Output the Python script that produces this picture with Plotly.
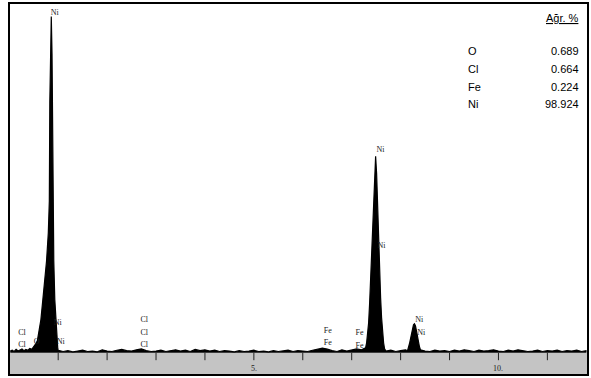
import plotly.graph_objects as go

# ---------------- data ----------------
# EDS spectrum: energy (keV) and counts (arbitrary units)
low_energy = [0.02, 0.06, 0.10, 0.14, 0.18, 0.22, 0.26, 0.30, 0.34, 0.38, 0.42, 0.46, 0.50,
              0.544, 0.574, 0.646, 0.686, 0.727, 0.762, 0.798, 0.819, 0.829, 0.845, 0.859,
              0.874, 0.880, 0.890, 0.910, 0.931, 0.951, 0.972, 0.992]
low_counts = [20, 30, 15, 40, 20, 35, 45, 25, 40, 30, 50, 40, 70,
              110, 144, 396, 636, 900, 1104, 1440, 1824, 3024, 3720, 4044,
              3600, 3024, 1824, 1104, 636, 396, 144, 48]

mid_energy = [1.0, 1.1, 1.2, 1.3, 1.4, 1.5, 1.6, 1.7, 1.8, 1.9, 2.0, 2.1, 2.2, 2.3, 2.4, 2.5,
              2.6, 2.7, 2.8, 2.9, 3.0, 3.1, 3.2, 3.3, 3.4, 3.5, 3.6, 3.7, 3.8, 3.9, 4.0, 4.1,
              4.2, 4.3, 4.4, 4.5, 4.6, 4.7, 4.8, 4.9, 5.0, 5.1, 5.2, 5.3, 5.4, 5.5, 5.6, 5.7,
              5.8, 5.9, 6.0, 6.1, 6.2, 6.3, 6.4, 6.5, 6.6, 6.7, 6.8, 6.9, 7.0, 7.1, 7.2]
mid_counts = [30, 15, 25, 10, 20, 30, 15, 20, 10, 35, 20, 15, 30, 40, 25, 20,
              35, 45, 25, 15, 20, 30, 15, 25, 35, 20, 30, 15, 40, 25, 35, 20,
              30, 15, 25, 20, 10, 25, 15, 20, 30, 15, 20, 10, 25, 15, 20, 30,
              15, 25, 20, 15, 30, 40, 55, 45, 25, 15, 35, 20, 30, 45, 35]

nika_energy = [7.285, 7.305, 7.326, 7.346, 7.367, 7.387, 7.408, 7.428, 7.448, 7.469,
               7.489, 7.509, 7.530, 7.550, 7.571, 7.591, 7.611, 7.632, 7.652, 7.672]
nika_counts = [60, 120, 216, 360, 600, 900, 1200, 1500, 1860, 2220,
               2364, 2160, 1740, 1320, 960, 660, 420, 240, 120, 48]

gap_energy = [7.7, 7.8, 7.9, 8.0, 8.1]
gap_counts = [20, 30, 15, 25, 35]

nikb_energy = [8.141, 8.161, 8.181, 8.202, 8.222, 8.242, 8.263, 8.283, 8.303, 8.324,
               8.344, 8.364, 8.385, 8.405]
nikb_counts = [24, 60, 108, 168, 228, 288, 336, 348, 324, 264, 192, 120, 72, 36]

high_energy = [8.5, 8.6, 8.7, 8.8, 8.9, 9.0, 9.1, 9.2, 9.3, 9.4, 9.5, 9.6, 9.7, 9.8, 9.9,
               10.0, 10.1, 10.2, 10.3, 10.4, 10.5, 10.6, 10.7, 10.8, 10.9, 11.0, 11.1,
               11.2, 11.3, 11.4, 11.5, 11.6, 11.7, 11.8]
high_counts = [20, 15, 30, 20, 25, 15, 30, 20, 35, 25, 15, 30, 20, 25, 35,
               20, 15, 30, 20, 35, 25, 15, 20, 30, 15, 25, 20,
               30, 15, 25, 20, 30, 15, 25]

# peak identification labels
label_text = ["Ni", "Ni", "Ni", "Cl", "Cl", "O", "Cl", "Cl", "Cl",
              "Fe", "Fe", "Fe", "Fe", "Ni", "Ni", "Ni", "Ni"]
label_energy = [0.93, 0.99, 1.05, 0.26, 0.26, 0.56, 2.76, 2.76, 2.76,
                6.51, 6.51, 7.16, 7.16, 7.59, 7.61, 8.38, 8.42]
label_counts = [4088, 356, 128, 236, 92, 128, 392, 236, 92,
                260, 116, 236, 80, 2444, 1280, 392, 236]

# axis ticks
tick_values = [1, 2, 3, 4, 5, 6, 7, 8, 9, 10, 11]
tick_label_values = [5, 10]
tick_label_text = ["5.", "10."]

# composition table
elements = ["O", "Cl", "Fe", "Ni"]
weight_pct = ["0.689", "0.664", "0.224", "98.924"]
table_title = "Ağr. %"

# ---------------- figure ----------------
energy = low_energy + mid_energy + nika_energy + gap_energy + nikb_energy + high_energy
counts = low_counts + mid_counts + nika_counts + gap_counts + nikb_counts + high_counts

Y_MIN, Y_MAX = -256, 4196
X_MIN, X_MAX = 0.015, 11.81

fig = go.Figure()
fig.add_trace(go.Scatter(
    x=energy, y=counts, mode="lines", fill="tozeroy",
    line=dict(color="black", width=1.2), fillcolor="black",
    hoverinfo="skip", showlegend=False))

fig.add_trace(go.Scatter(
    x=label_energy, y=label_counts, mode="text", text=label_text,
    textposition="middle center",
    textfont=dict(family="Liberation Serif", size=8, color="#222222"),
    hoverinfo="skip", showlegend=False))

# grey band below the baseline
fig.add_shape(type="rect", xref="x", yref="y", x0=X_MIN, x1=X_MAX, y0=Y_MIN, y1=0,
              fillcolor="#c4c4c4", line=dict(width=0), layer="below")

# ticks hanging from the baseline
for v in tick_values:
    fig.add_shape(type="line", xref="x", yref="y", x0=v, x1=v, y0=0, y1=-90,
                  line=dict(color="#222222", width=1))
for v, t in zip(tick_label_values, tick_label_text):
    fig.add_annotation(x=v, y=-190, xref="x", yref="y", text=t, showarrow=False,
                       font=dict(family="Liberation Serif", size=8, color="#222222"))

# composition table
fig.add_annotation(x=583, y=17, xref="paper", yref="paper", text="<u>" + table_title + "</u>",
                   showarrow=False, xanchor="right", yanchor="middle",
                   font=dict(family="Liberation Sans", size=11, color="black"))
row_y = [50, 68, 86, 103]
for el, val, yy in zip(elements, weight_pct, row_y):
    fig.add_annotation(x=468, y=yy, xref="paper", yref="paper", text=el, showarrow=False,
                       xanchor="left", yanchor="middle",
                       font=dict(family="Liberation Sans", size=11, color="black"))
    fig.add_annotation(x=583, y=yy, xref="paper", yref="paper", text=val, showarrow=False,
                       xanchor="right", yanchor="middle",
                       font=dict(family="Liberation Sans", size=11, color="black"))

# convert pixel positions of table annotations to paper fractions
W, H = 591, 378
L, R, T, B = 10, 2, 3, 4
pw, ph = W - L - R, H - T - B
for a in fig.layout.annotations:
    if a.xref == "paper":
        a.x = (a.x - L) / pw
        a.y = 1 - (a.y - T) / ph

fig.update_layout(
    width=W, height=H,
    margin=dict(l=L, r=R, t=T, b=B, pad=0),
    paper_bgcolor="white", plot_bgcolor="white",
    xaxis=dict(range=[X_MIN, X_MAX], showgrid=False, zeroline=False, showticklabels=False,
               ticks="", showline=True, linecolor="black", linewidth=2, mirror=True),
    yaxis=dict(range=[Y_MIN, Y_MAX], showgrid=False, zeroline=False, showticklabels=False,
               ticks="", showline=True, linecolor="black", linewidth=2, mirror=True),
)

fig.write_html(
    "out.html",
    config={"displayModeBar": False},
    post_script="document.body.style.margin='0';document.body.style.overflow='hidden';",
)
